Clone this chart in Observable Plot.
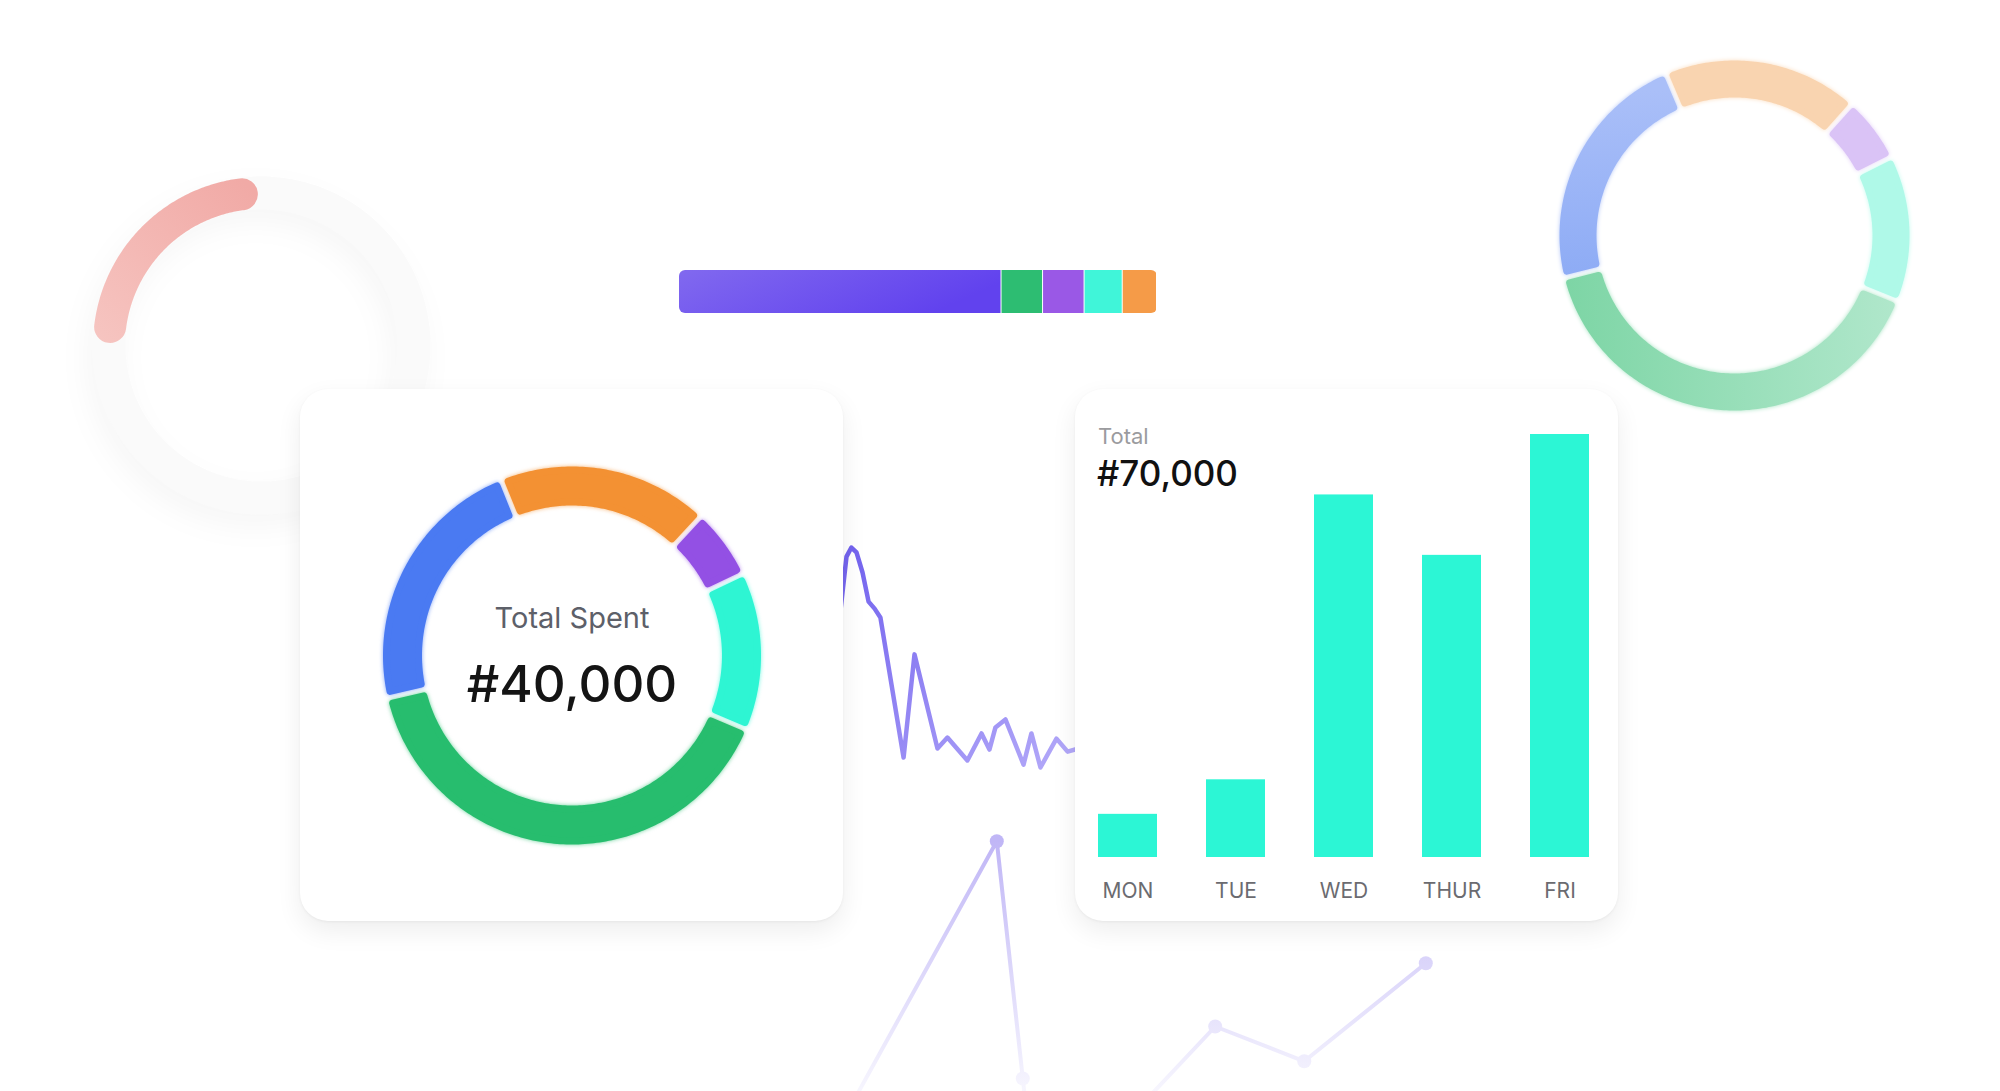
<!DOCTYPE html>
<html><head><meta charset="utf-8">
<script src="https://cdn.jsdelivr.net/npm/d3@7"></script>
<script src="https://cdn.jsdelivr.net/npm/@observablehq/plot@0.6"></script>
<style>
html,body{margin:0;padding:0;background:#fff;overflow:hidden;}
#stage{position:relative;width:2000px;height:1091px;overflow:hidden;background:#fff;font-family:Inter,"Noto Sans",sans-serif;}
.layer{position:absolute;}
.layer svg{display:block;}
.card{position:absolute;background:#fff;border-radius:28px;box-shadow:0 10px 26px rgba(0,0,0,0.07),0 1px 3px rgba(0,0,0,0.05);}
.card svg{position:absolute;left:0;top:0;}
.txt{position:absolute;white-space:nowrap;font-family:Inter,"Noto Sans",sans-serif;}
</style></head>
<body><div id="stage"></div>
<script>
// ---------- DATA ----------
const spendCategories = ["Transport", "Food", "Subscriptions", "Shopping", "Bills"];
const spendValues = [9000, 7200, 2400, 5400, 16000];
const spendColors = ["#4a7af2", "#f39133", "#9350e4", "#2ef5d3", "#27bd6e"];
const ghostColors = ["url(#ghostBlue)", "#f9d4b0", "#dac3f6", "#aff9e8", "url(#ghostGreen)"];
const spendTitle = "Total Spent";

const days = ["MON", "TUE", "WED", "THUR", "FRI"];
const dayValues = [2500, 4500, 21000, 17500, 24500];
const weekTitle = "Total";

const shareLabels = ["Main", "Savings", "Gifts", "Health", "Other"];
const shareValues = [66.8, 8.6, 8.6, 7.9, 7.1];
const shareColors = ["url(#shareGrad)", "#2dbd72", "#9a58e6", "#40f5d9", "#f59b48"];

const progressPercent = 21;

const waveT = [-1.3, 1.3, 3.4, 5.6, 8.2, 10.8, 13.4, 15.9, 25.9, 30.6, 40.5, 44.8, 53.4, 59.5, 62.9, 65.5, 69.8, 77.6, 81.0, 84.9, 91.8, 96.6, 101.3];
const waveV = [73.1, 93.8, 97.3, 95.4, 87.7, 76.5, 73.8, 70.4, 16.5, 56.2, 20.0, 24.2, 15.4, 25.8, 19.6, 28.1, 31.2, 13.8, 25.8, 12.7, 23.8, 18.8, 20.0];

const trendT = [3.1, 30.2, 34.2, 36.5, 63.8, 77.5, 96.2];
const trendV = [17.5, 97.3, 38.0, 3.8, 51.0, 42.3, 66.8];

// ---------- HELPERS ----------
const stage = document.getElementById("stage");
const fmt = d3.format(",");
const NS = "http://www.w3.org/2000/svg";
function addDefs(svg, html) {
  const defs = document.createElementNS(NS, "defs");
  defs.innerHTML = html;
  svg.insertBefore(defs, svg.firstChild);
}
function place(el, left, top, parent = stage) {
  const d = document.createElement("div");
  d.className = "layer";
  d.style.left = left + "px"; d.style.top = top + "px";
  d.appendChild(el);
  parent.appendChild(d);
  return d;
}
const rad = (deg) => deg * Math.PI / 180;

function ringRows(values, colors, rIn, rOut, gap, sw, startDeg) {
  const a0 = rad(startDeg);
  const arcs = d3.pie().sort(null).startAngle(a0).endAngle(a0 + 2 * Math.PI)(values);
  const rows = [];
  const ro = rOut - sw / 2, ri = rIn + sw / 2, off = gap / 2 + sw / 2;
  arcs.forEach((a, i) => {
    const oa0 = a.startAngle + off / ro, oa1 = a.endAngle - off / ro;
    const ia0 = a.startAngle + off / ri, ia1 = a.endAngle - off / ri;
    const n = Math.max(8, Math.ceil((a.endAngle - a.startAngle) * 60));
    for (let k = 0; k <= n; k++) { const t = oa0 + (oa1 - oa0) * k / n; rows.push({seg: i, x: ro * Math.sin(t), y: -ro * Math.cos(t), color: colors[i]}); }
    for (let k = n; k >= 0; k--) { const t = ia0 + (ia1 - ia0) * k / n; rows.push({seg: i, x: ri * Math.sin(t), y: -ri * Math.cos(t), color: colors[i]}); }
  });
  return rows;
}
function arcRows(r, fromDeg, spanDeg, n = 120) {
  return d3.range(n + 1).map(k => {
    const t = rad(fromDeg + spanDeg * k / n);
    return {x: r * Math.sin(t), y: -r * Math.cos(t)};
  });
}
const baseStyle = {background: "none", overflow: "visible", fontFamily: "Inter, 'Noto Sans', sans-serif"};

// ---------- LEFT FADED PROGRESS RING ----------
{
  const r = 152.5;
  const svg = Plot.plot({
    width: 400, height: 400, margin: 0,
    x: {domain: [-200, 200], axis: null},
    y: {domain: [-200, 200], range: [0, 400], axis: null},
    style: baseStyle,
    marks: [
      Plot.line(arcRows(r, 0, 360, 180), {x: "x", y: "y", stroke: "#fafafa", strokeWidth: 33, curve: "linear-closed"}),
      Plot.line(arcRows(r, -83, 360 * progressPercent / 100), {x: "x", y: "y", stroke: "url(#pinkGrad)", strokeWidth: 32, strokeLinecap: "round"})
    ]
  });
  addDefs(svg, `<linearGradient id="pinkGrad" gradientUnits="userSpaceOnUse" x1="190" y1="45" x2="45" y2="200">
    <stop offset="0" stop-color="#f1aaa6"/><stop offset="1" stop-color="#f6c4c0"/></linearGradient>`);
  const paths = svg.querySelectorAll("path");
  if (paths[0]) paths[0].style.filter = "drop-shadow(-6px 12px 14px rgba(0,0,0,0.035))";
  place(svg, 61, 145);
}

// ---------- RIGHT FADED DONUT ----------
{
  const svg = Plot.plot({
    width: 400, height: 400, margin: 0,
    x: {domain: [-200, 200], axis: null},
    y: {domain: [-200, 200], range: [0, 400], axis: null},
    color: {type: "identity"},
    style: baseStyle,
    marks: [
      Plot.line(ringRows(spendValues, ghostColors, 138, 175, 5, 7, -104),
        {x: "x", y: "y", z: "seg", fill: "color", stroke: "color", strokeWidth: 7, curve: "linear-closed", strokeLinejoin: "round"})
    ]
  });
  addDefs(svg, `<linearGradient id="ghostBlue" gradientUnits="userSpaceOnUse" x1="0" y1="55" x2="0" y2="245">
     <stop offset="0" stop-color="#aabff8"/><stop offset="1" stop-color="#8dabf5"/></linearGradient>
    <linearGradient id="ghostGreen" gradientUnits="userSpaceOnUse" x1="30" y1="0" x2="360" y2="0">
     <stop offset="0" stop-color="#7dd5a5"/><stop offset="1" stop-color="#b0e7cb"/></linearGradient>`);
  const glow = ["#b6c8f8", "#fbdcbd", "#e3d0f8", "#c3fbef", "#a6e3c2"];
  svg.querySelectorAll("path").forEach((p, i) => { p.style.filter = `drop-shadow(0 0 2px ${glow[i % 5]})`; });
  place(svg, 1534, 35);
}

// ---------- STACKED SHARE BAR ----------
{
  const rows = shareLabels.map((k, i) => ({key: k, value: shareValues[i], color: shareColors[i]}));
  const svg = Plot.plot({
    width: 478, height: 43, margin: 0,
    x: {domain: [0, d3.sum(shareValues)], axis: null},
    color: {type: "identity"},
    style: baseStyle,
    marks: [Plot.barX(rows, {x: "value", fill: "color", insetRight: 1})]
  });
  addDefs(svg, `<linearGradient id="shareGrad" x1="0" y1="0" x2="1" y2="0.3">
    <stop offset="0" stop-color="#8169ef"/><stop offset="1" stop-color="#6142ee"/></linearGradient>`);
  svg.style.clipPath = "inset(0px round 6px)";
  svg.style.overflow = "hidden";
  place(svg, 679, 270);
}

// ---------- WAVE LINE (between cards) ----------
{
  const rows = waveT.map((t, i) => ({t, v: waveV[i]}));
  const svg = Plot.plot({
    width: 280, height: 320, margin: 0,
    x: {domain: [0, 100], range: [23, 255], axis: null},
    y: {domain: [0, 100], range: [300, 40], axis: null},
    style: baseStyle,
    marks: [Plot.line(rows, {x: "t", y: "v", stroke: "url(#waveGrad)", strokeWidth: 4.5, strokeLinejoin: "round"})]
  });
  addDefs(svg, `<linearGradient id="waveGrad" gradientUnits="userSpaceOnUse" x1="25" y1="45" x2="255" y2="270">
    <stop offset="0" stop-color="#7262ee"/><stop offset="1" stop-color="#b5abf9"/></linearGradient>`);
  place(svg, 820, 500);
}

// ---------- FAINT TREND LINE (bottom) ----------
{
  const rows = trendT.map((t, i) => ({t, v: trendV[i]}));
  const svg = Plot.plot({
    width: 660, height: 450, margin: 0,
    x: {domain: [0, 100], range: [0, 650], axis: null},
    y: {domain: [0, 100], range: [430, 30], axis: null},
    style: baseStyle,
    marks: [
      Plot.line(rows, {x: "t", y: "v", stroke: "url(#trendGrad)", strokeWidth: 4}),
      Plot.dot(rows, {x: "t", y: "v", r: 7, fill: "url(#trendGrad)", stroke: "none"})
    ]
  });
  addDefs(svg, `<linearGradient id="trendGrad" gradientUnits="userSpaceOnUse" x1="0" y1="40" x2="0" y2="292">
    <stop offset="0" stop-color="#c0b6f6"/><stop offset="1" stop-color="#f7f6fe"/></linearGradient>`);
  place(svg, 800, 800);
}

// ---------- LEFT CARD: DONUT ----------
{
  const card = document.createElement("div");
  card.className = "card";
  Object.assign(card.style, {left: "300px", top: "389px", width: "543px", height: "532px"});
  stage.appendChild(card);
  const total = "#" + fmt(d3.sum(spendValues));
  const svg = Plot.plot({
    width: 543, height: 532, margin: 0,
    x: {domain: [-271.5, 271.5], axis: null},
    y: {domain: [-266, 266], range: [0, 532], axis: null},
    color: {type: "identity"},
    style: baseStyle,
    marks: [
      Plot.line(ringRows(spendValues, spendColors, 150, 189, 5, 7, -103),
        {x: "x", y: "y", z: "seg", fill: "color", stroke: "color", strokeWidth: 7, curve: "linear-closed", strokeLinejoin: "round"}),
      Plot.text([spendTitle], {x: () => 0, y: () => -36.3, text: d => d, fontSize: 29, fill: "#5d6069", fontFamily: "Inter"}),
      Plot.text([total], {x: () => 0, y: () => 29.8, text: d => d, fontSize: 51, fontWeight: 500, fill: "#141414", fontFamily: "Inter"})
    ]
  });
  svg.querySelectorAll("path").forEach(p => {
    const f = p.getAttribute("fill");
    if (f && f.startsWith("#")) p.style.filter = `drop-shadow(0 0 2px ${f}aa)`;
  });
  card.appendChild(svg);
}

// ---------- RIGHT CARD: WEEKLY BARS ----------
{
  const card = document.createElement("div");
  card.className = "card";
  Object.assign(card.style, {left: "1075px", top: "389px", width: "543px", height: "532px"});
  stage.appendChild(card);
  const rows = days.map((d, i) => ({day: d, value: dayValues[i]}));
  const svg = Plot.plot({
    width: 543, height: 532,
    marginLeft: 23, marginRight: 29, marginTop: 45, marginBottom: 64,
    x: {domain: days, paddingInner: 0.454, paddingOuter: 0, tickSize: 0, tickPadding: 26, label: null},
    y: {domain: [0, d3.max(dayValues)], axis: null},
    style: {...baseStyle, fontSize: "21px", color: "#6b6b70"},
    marks: [Plot.barY(rows, {x: "day", y: "value", fill: "#2cf6d5"})]
  });
  card.appendChild(svg);
  const t1 = document.createElement("div");
  t1.className = "txt"; t1.textContent = weekTitle;
  Object.assign(t1.style, {left: "23px", top: "36px", fontSize: "22px", lineHeight: "22px", color: "#9b9b9e"});
  const t2 = document.createElement("div");
  t2.className = "txt"; t2.textContent = "#" + fmt(d3.sum(dayValues));
  Object.assign(t2.style, {left: "22px", top: "67px", fontSize: "35px", lineHeight: "35px", fontWeight: "500", color: "#111"});
  card.appendChild(t1); card.appendChild(t2);
}
</script>
</body></html>
